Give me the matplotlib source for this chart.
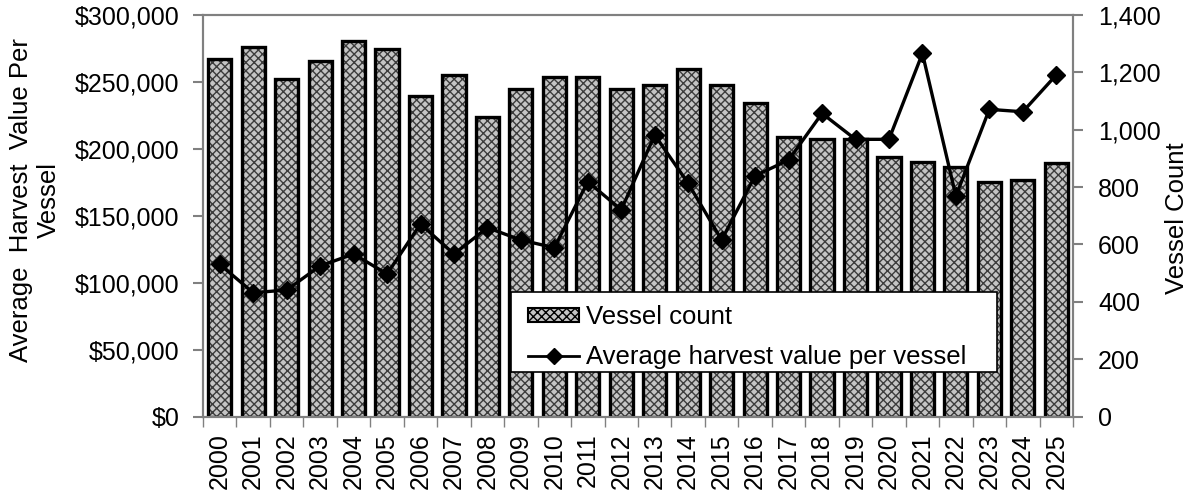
import matplotlib
matplotlib.use("Agg")
import matplotlib.pyplot as plt
from matplotlib.patches import Patch, Rectangle
from matplotlib.lines import Line2D
from matplotlib.ticker import FuncFormatter, MultipleLocator, FixedLocator
import numpy as np

plt.rcParams['font.family'] = ['Liberation Sans', 'DejaVu Sans']

years = [str(y) for y in range(2000, 2026)]
vessel_count = [1246, 1287, 1177, 1240, 1309, 1281, 1119, 1190, 1043, 1141,
                1183, 1183, 1141, 1155, 1211, 1155, 1092, 975, 966, 966,
                904, 889, 869, 819, 826, 883]
avg_value = [113700, 92500, 94500, 112500, 121400, 106500, 143800, 121400, 141100, 131900,
             126100, 175400, 154500, 210300, 174200, 131900, 179900, 191600, 226500, 207100,
             207100, 271300, 164700, 229500, 227700, 255200]

FS = 18
W, H = 1194, 496

fig = plt.figure(figsize=(W / 100, H / 100), dpi=100)
L, R, T, B = 203, 1073, 15, 416.5
ax = fig.add_axes([L / W, 1 - B / H, (R - L) / W, (B - T) / H])
ax2 = ax.twinx()
ax.set_zorder(ax2.get_zorder() + 1)
ax.patch.set_visible(False)

x = np.arange(len(years))
w = 0.69
ax2.bar(x, vessel_count, width=w, color='#c4c4c4', edgecolor='#3c3c3c', hatch='xxxx', linewidth=0, zorder=2)
ax2.bar(x, vessel_count, width=w, fill=False, edgecolor='black', linewidth=2.4, zorder=3)

ax.plot(x, avg_value, color='black', linewidth=2.4, marker='D', markersize=9, zorder=4)

ax.set_xlim(-0.5, len(years) - 0.5)
ax.set_ylim(0, 300000)
ax2.set_ylim(0, 1400)
ax.yaxis.set_major_locator(MultipleLocator(50000))
ax.yaxis.set_major_formatter(FuncFormatter(lambda v, p: f"${v:,.0f}"))
ax2.yaxis.set_major_locator(MultipleLocator(200))
ax2.yaxis.set_major_formatter(FuncFormatter(lambda v, p: f"{v:,.0f}"))

ax.set_xticks(x)
ax.set_xticklabels(years, rotation=90, fontsize=18)
ax.tick_params(axis='x', which='major', length=0, pad=12)
ax.xaxis.set_minor_locator(FixedLocator(np.arange(-0.5, len(years), 1.0)))
ax.tick_params(axis='x', which='minor', length=7, direction='out', color='#808080', width=1)
ax.tick_params(axis='y', labelsize=FS, direction='out', length=7, color='#808080', width=1.5, pad=10)
ax2.tick_params(axis='y', labelsize=FS, direction='out', length=7, color='#808080', width=1.5, pad=11)

for a in (ax, ax2):
    for s in a.spines.values():
        s.set_color('#808080')
        s.set_linewidth(1.5)

fig.text(35 / W, 1 - 200 / H, "Average  Harvest  Value Per\nVessel", rotation=90,
         ha='center', va='center', multialignment='center', fontsize=18.5, linespacing=1.25)
fig.text(1177 / W, 1 - 218 / H, "Vessel Count", rotation=90, ha='center', va='center',
         fontsize=18.5)

# legend frame
bx0 = 510.7
by0 = 292.3
bx1 = 996.7
by1 = 372.3
def ax_x(px):
    return (px - L) / (R - L)
def ax_y(py):
    return (B - py) / (B - T)
ax.add_patch(Rectangle((ax_x(bx0), ax_y(by1)), ax_x(bx1) - ax_x(bx0), ax_y(by0) - ax_y(by1),
                       transform=ax.transAxes, facecolor='white', edgecolor='black',
                       linewidth=1.2, zorder=8))

h_bar = Patch(facecolor='#c4c4c4', edgecolor='black', hatch='xxxx', linewidth=1.5)
h_line = Line2D([], [], color='black', linewidth=2, marker='D', markersize=8)
leg = ax.legend([h_bar, h_line], ["Vessel count", "Average harvest value per vessel"],
                loc='upper left', bbox_to_anchor=(ax_x(528), ax_y(305)), fontsize=18.5,
                frameon=False, borderpad=0, handlelength=2.0, handleheight=0.5,
                handletextpad=0.27, labelspacing=0.62, borderaxespad=0)
leg.set_zorder(10)

fig.savefig("out.png", dpi=100)
